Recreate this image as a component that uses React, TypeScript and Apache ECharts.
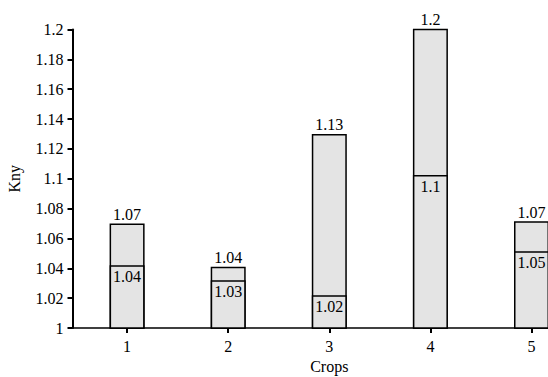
import React, { useEffect, useRef } from "react";
import * as echarts from "echarts";

const crops = [1, 2, 3, 4, 5];
const topValues = [1.07, 1.041, 1.13, 1.201, 1.0715];
const midValues = [1.042, 1.032, 1.022, 1.1025, 1.0515];
const topLabels = ["1.07", "1.04", "1.13", "1.2", "1.07"];
const midLabels = ["1.04", "1.03", "1.02", "1.1", "1.05"];

const FONT = "'Liberation Serif', 'Times New Roman', 'DejaVu Serif', serif";

export default function App() {
  const ref = useRef<HTMLDivElement>(null);
  useEffect(() => {
    if (!ref.current) return;
    const chart = echarts.init(ref.current, undefined, { renderer: "svg" });
    const barStyle = { color: "#e4e4e4", borderColor: "#000", borderWidth: 1.5 };
    chart.setOption({
      animation: false,
      textStyle: { fontFamily: FONT },
      grid: {
        left: 72.5,
        top: 29.5,
        width: 513.6,
        height: 298.5,
        outerBoundsMode: "none",
        containLabel: false,
      },
      xAxis: {
        type: "value",
        min: 0.46,
        max: 5.54,
        name: "Crops",
        nameLocation: "middle",
        nameGap: 29,
        nameTextStyle: { fontFamily: FONT, fontSize: 16, color: "#000" },
        splitLine: { show: false },
        axisLine: { lineStyle: { color: "#000", width: 1.5 } },
        axisTick: { customValues: crops, length: 5, lineStyle: { color: "#000", width: 2 } },
        axisLabel: { customValues: crops, fontFamily: FONT, fontSize: 16, color: "#000", margin: 10 },
      },
      yAxis: {
        type: "value",
        min: 1,
        max: 1.2,
        interval: 0.02,
        name: "Kny",
        nameLocation: "middle",
        nameGap: 50,
        nameTextStyle: { fontFamily: FONT, fontSize: 16, color: "#000" },
        splitLine: { show: false },
        axisLine: { show: true, lineStyle: { color: "#000", width: 2 } },
        axisTick: { show: true, length: 5, lineStyle: { color: "#000", width: 2 } },
        axisLabel: { fontFamily: FONT, fontSize: 16, color: "#000", margin: 9 },
      },
      series: [
        {
          type: "bar",
          barWidth: 35,
          barGap: "-100%",
          data: crops.map((c, i) => [c, topValues[i]]),
          itemStyle: barStyle,
          label: {
            show: true,
            position: "top",
            distance: 1,
            fontFamily: FONT,
            fontSize: 16,
            color: "#000",
            formatter: (p: any) => topLabels[p.dataIndex],
          },
        },
        {
          type: "bar",
          barWidth: 35,
          barGap: "-100%",
          data: crops.map((c, i) => [c, midValues[i]]),
          itemStyle: barStyle,
          label: {
            show: true,
            position: "insideTop",
            distance: 3,
            fontFamily: FONT,
            fontSize: 16,
            color: "#000",
            formatter: (p: any) => midLabels[p.dataIndex],
          },
        },
      ],
    });
    return () => chart.dispose();
  }, []);
  return (
    <div
      ref={ref}
      style={{ position: "absolute", left: 0, top: 0, width: 548, height: 377, overflow: "hidden", background: "#fff" }}
    />
  );
}
